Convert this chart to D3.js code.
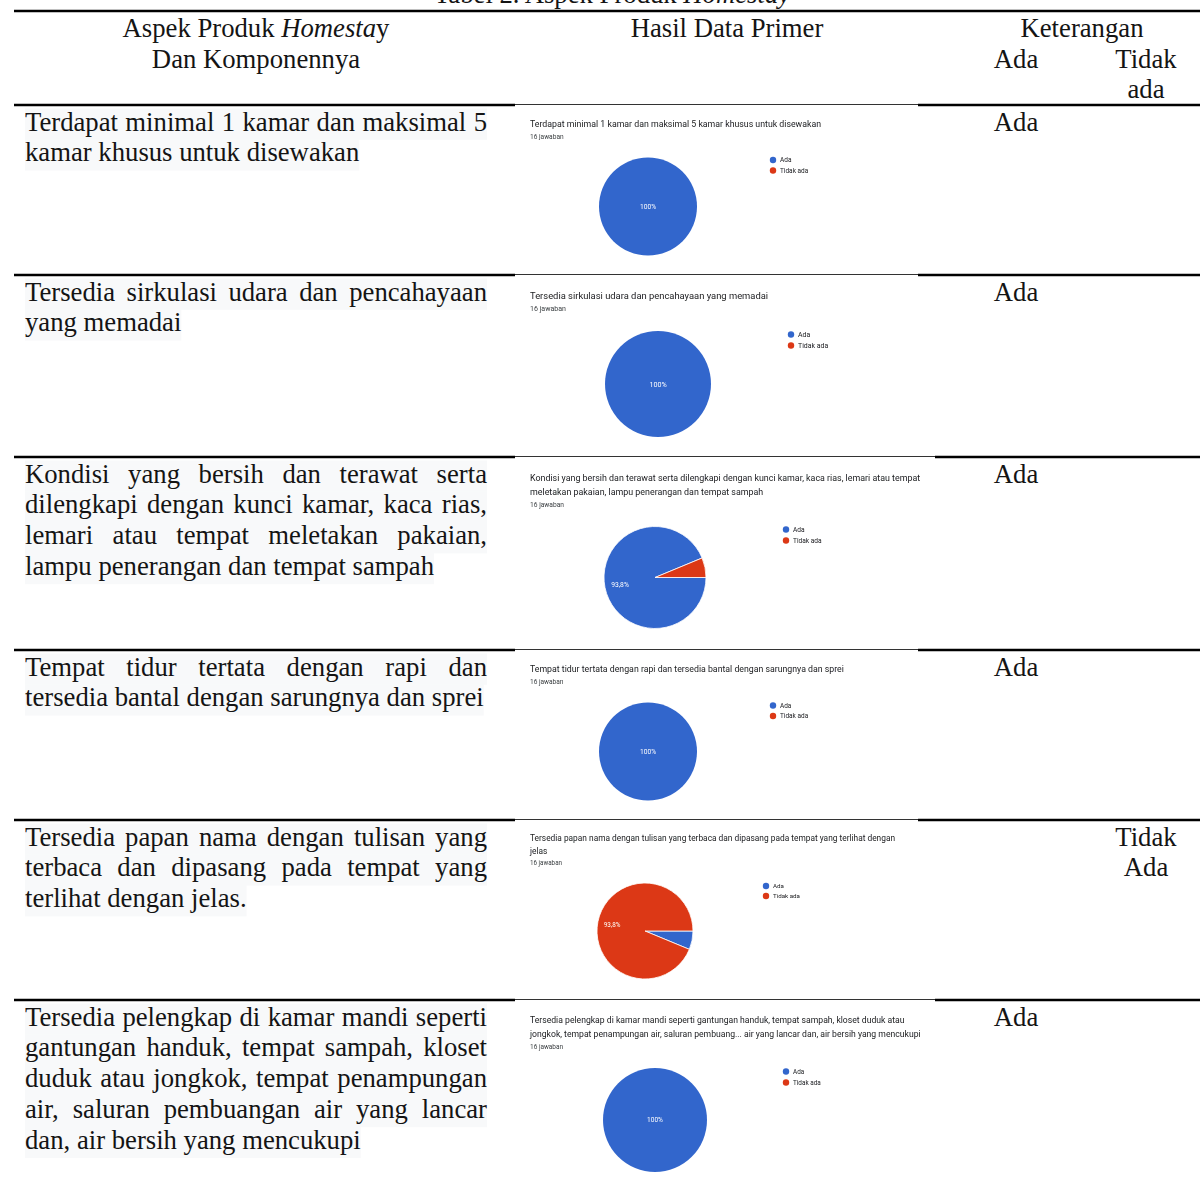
<!DOCTYPE html>
<html>
<head>
<meta charset="utf-8">
<script src="https://cdn.jsdelivr.net/npm/d3@7"></script>
<style>
  html, body { margin: 0; padding: 0; background: #fff; }
  svg { display: block; }
  .serif { font-family: "Liberation Serif", "Times New Roman", serif; fill: #141414; }
  .sans { font-family: Roboto, Arial, "Liberation Sans", sans-serif; }
</style>
</head>
<body>
<script>
// ---- Table content ----
const aspects = [
  ["Terdapat minimal 1 kamar dan maksimal 5", "kamar khusus untuk disewakan"],
  ["Tersedia sirkulasi udara dan pencahayaan", "yang memadai"],
  ["Kondisi yang bersih dan terawat serta", "dilengkapi dengan kunci kamar, kaca rias,",
   "lemari atau tempat meletakan pakaian,", "lampu penerangan dan tempat sampah"],
  ["Tempat tidur tertata dengan rapi dan", "tersedia bantal dengan sarungnya dan sprei"],
  ["Tersedia papan nama dengan tulisan yang", "terbaca dan dipasang pada tempat yang",
   "terlihat dengan jelas."],
  ["Tersedia pelengkap di kamar mandi seperti", "gantungan handuk, tempat sampah, kloset",
   "duduk atau jongkok, tempat penampungan", "air, saluran pembuangan air yang lancar",
   "dan, air bersih yang mencukupi"]
];

const chartTitles = [
  ["Terdapat minimal 1 kamar dan maksimal 5 kamar khusus untuk disewakan"],
  ["Tersedia sirkulasi udara dan pencahayaan yang memadai"],
  ["Kondisi yang bersih dan terawat serta dilengkapi dengan kunci kamar, kaca rias, lemari atau tempat",
   "meletakan pakaian, lampu penerangan dan tempat sampah"],
  ["Tempat tidur tertata dengan rapi dan tersedia bantal dengan sarungnya dan sprei"],
  ["Tersedia papan nama dengan tulisan yang terbaca dan dipasang pada tempat yang terlihat dengan",
   "jelas"],
  ["Tersedia pelengkap di kamar mandi seperti gantungan handuk, tempat sampah, kloset duduk atau",
   "jongkok, tempat penampungan air, saluran pembuang... air yang lancar dan, air bersih yang mencukupi"]
];

const answerLabels = ["Ada", "Tidak ada"];
const adaCounts    = [16, 16, 15, 16, 1, 16];
const tidakCounts  = [0, 0, 1, 0, 15, 0];
const responses    = [16, 16, 16, 16, 16, 16];

// Keterangan column: which sub-column is ticked, and its wording
const keteranganCol  = ["ada", "ada", "ada", "ada", "tidak", "ada"];
const keteranganText = [["Ada"], ["Ada"], ["Ada"], ["Ada"], ["Tidak", "Ada"], ["Ada"]];

const answerColors = ["#3366cc", "#dc3912"];

// ---- Page layout ----
const W = 1200, H = 1185;
const rowTops = [105, 275, 457, 650, 820, 1000];
const panelRight = [918, 918, 935, 918, 918, 935];
const textLeft = 25, textRight = 487, lineH = 30.8, bodySize = 26.7;

// Geometry of each embedded form-summary chart
const panels = [
  { titleY: [127],       subY: 138.5, fs: 8.78, cx: 648, cy: 206.5, r: 49, lx: 773, ly: 160,   step: 10.5 },
  { titleY: [299],       subY: 310.5, fs: 9.39, cx: 658, cy: 384,   r: 53, lx: 791, ly: 334.5, step: 11 },
  { titleY: [481, 495],  subY: 506.5, fs: 8.9,  cx: 655, cy: 577.5, r: 51, lx: 786, ly: 529.5, step: 11 },
  { titleY: [672],       subY: 683.5, fs: 8.75, cx: 648, cy: 751.5, r: 49, lx: 773, ly: 705.5, step: 10.5 },
  { titleY: [841, 854],  subY: 865,   fs: 8.36, cx: 645, cy: 931,   r: 48, lx: 766, ly: 886,   step: 10 },
  { titleY: [1023, 1037],subY: 1048.5,fs: 8.64, cx: 655, cy: 1120,  r: 52, lx: 786, ly: 1071.5,step: 11 }
];

const svg = d3.select("body").append("svg")
  .attr("width", W).attr("height", H)
  .attr("viewBox", `0 0 ${W} ${H}`);

const defs = svg.append("defs");
defs.append("filter").attr("id", "soft")
  .append("feGaussianBlur").attr("stdDeviation", 0.3);

// ---- Caption (runs off the top edge of the page) ----
const cap = svg.append("text").attr("class", "serif")
  .attr("x", 612).attr("y", 3).attr("text-anchor", "middle")
  .style("font-size", bodySize + "px");
cap.append("tspan").text("Tabel 2. Aspek Produk ");
cap.append("tspan").style("font-style", "italic").text("Homestay");

// ---- Header ----
const hdr = svg.append("g").attr("class", "serif").style("font-size", bodySize + "px");
const h1 = hdr.append("text").attr("x", 256).attr("y", 37).attr("text-anchor", "middle");
h1.append("tspan").text("Aspek Produk ");
h1.append("tspan").style("font-style", "italic").text("Homesta");
h1.append("tspan").text("y");
hdr.append("text").attr("x", 256).attr("y", 68).attr("text-anchor", "middle").text("Dan Komponennya");
hdr.append("text").attr("x", 727).attr("y", 37).attr("text-anchor", "middle").text("Hasil Data Primer");
hdr.append("text").attr("x", 1082).attr("y", 37).attr("text-anchor", "middle").text("Keterangan");
hdr.append("text").attr("x", 1016).attr("y", 68).attr("text-anchor", "middle").text("Ada");
hdr.append("text").attr("x", 1146).attr("y", 68).attr("text-anchor", "middle").text("Tidak");
hdr.append("text").attr("x", 1146).attr("y", 98).attr("text-anchor", "middle").text("ada");

// ---- Rules ----
const rules = svg.append("g");
rules.append("line").attr("x1", 14).attr("x2", W).attr("y1", 11).attr("y2", 11)
  .attr("stroke", "#000").attr("stroke-width", 2.5);
rowTops.forEach((y, i) => {
  rules.append("line").attr("x1", 14).attr("x2", 515).attr("y1", y).attr("y2", y)
    .attr("stroke", "#000").attr("stroke-width", 2.5);
  rules.append("line").attr("x1", 515).attr("x2", panelRight[i]).attr("y1", y - 0.5).attr("y2", y - 0.5)
    .attr("stroke", "#333").attr("stroke-width", 1);
  rules.append("line").attr("x1", panelRight[i]).attr("x2", W).attr("y1", y).attr("y2", y)
    .attr("stroke", "#000").attr("stroke-width", 2.5);
});

// ---- Left column: justified paragraphs with light shading ----
const body = svg.append("g").attr("class", "serif").style("font-size", bodySize + "px");
const measurer = body.append("text").attr("x", -1000).attr("y", -1000);
function measure(s) { measurer.text(s); return measurer.node().getComputedTextLength(); }

aspects.forEach((lines, i) => {
  const base = rowTops[i] + 25.5;
  lines.forEach((line, j) => {
    const y = base + j * lineH;
    const last = j === lines.length - 1;
    const words = line.split(" ");
    const widths = words.map(measure);
    const natural = measure(line);
    const width = last ? natural : (textRight - textLeft);
    body.insert("rect", "text")
      .attr("x", textLeft).attr("y", y - 22).attr("width", width).attr("height", lineH + 0.5)
      .attr("fill", "#f8f9fa");
    if (last || words.length < 2) {
      body.append("text").attr("x", textLeft).attr("y", y).text(line);
    } else {
      const gap = (textRight - textLeft - d3.sum(widths)) / (words.length - 1);
      let x = textLeft;
      words.forEach((w, k) => {
        body.append("text").attr("x", x).attr("y", y).text(w);
        x += widths[k] + gap;
      });
    }
  });
});
measurer.remove();

// ---- Right column: Keterangan ----
const ket = svg.append("g").attr("class", "serif").style("font-size", bodySize + "px");
keteranganText.forEach((lines, i) => {
  const x = keteranganCol[i] === "ada" ? 1016 : 1146;
  lines.forEach((t, j) => {
    ket.append("text").attr("x", x).attr("y", rowTops[i] + 25.5 + j * lineH)
      .attr("text-anchor", "middle").text(t);
  });
});

// ---- Middle column: form-summary pie charts ----
const fmtPct = v => {
  const p = v * 100;
  return (Math.abs(p - Math.round(p)) < 1e-9 ? d3.format(".0f")(p) : d3.format(".1f")(p)).replace(".", ",") + "%";
};

panels.forEach((p, i) => {
  const g = svg.append("g").attr("class", "sans").attr("filter", "url(#soft)");
  const data = answerLabels.map((lab, k) => ({
    label: lab, count: k === 0 ? adaCounts[i] : tidakCounts[i], color: answerColors[k]
  }));
  const total = d3.sum(data, d => d.count);

  chartTitles[i].forEach((t, j) => {
    g.append("text").attr("x", 530).attr("y", p.titleY[j])
      .style("font-size", p.fs + "px").attr("fill", "#202124").text(t);
  });
  g.append("text").attr("x", 530).attr("y", p.subY)
    .style("font-size", (p.fs * 0.75) + "px").attr("fill", "#3c4043")
    .text(responses[i] + " jawaban");

  const pie = d3.pie().sort(null).value(d => d.count)
    .startAngle(Math.PI / 2).endAngle(Math.PI / 2 + 2 * Math.PI);
  const arcs = pie(data);
  const arc = d3.arc().innerRadius(0).outerRadius(p.r);
  const labelArc = d3.arc().innerRadius(p.r * 0.7).outerRadius(p.r * 0.7);

  const pg = g.append("g").attr("transform", `translate(${p.cx},${p.cy})`);
  pg.selectAll("path").data(arcs.filter(a => a.data.count > 0)).join("path")
    .attr("d", arc).attr("fill", a => a.data.color)
    .attr("stroke", "#fff").attr("stroke-width", total === d3.max(data, d => d.count) ? 0 : 0.8);

  arcs.filter(a => a.data.count / total >= 0.1).forEach(a => {
    const frac = a.data.count / total;
    const [lx, ly] = frac === 1 ? [0, 0] : labelArc.centroid(a);
    pg.append("text").attr("x", lx).attr("y", ly).attr("dy", "0.35em")
      .attr("text-anchor", "middle").attr("fill", "#fff")
      .style("font-size", (p.fs * 0.76) + "px").text(fmtPct(frac));
  });

  const lg = g.append("g");
  data.forEach((d, k) => {
    const y = p.ly + k * p.step;
    lg.append("circle").attr("cx", p.lx).attr("cy", y).attr("r", 3.2).attr("fill", d.color);
    lg.append("text").attr("x", p.lx + 7).attr("y", y).attr("dy", "0.35em")
      .style("font-size", (p.fs * 0.74) + "px").attr("fill", "#202124").text(d.label);
  });
});
</script>
</body>
</html>
